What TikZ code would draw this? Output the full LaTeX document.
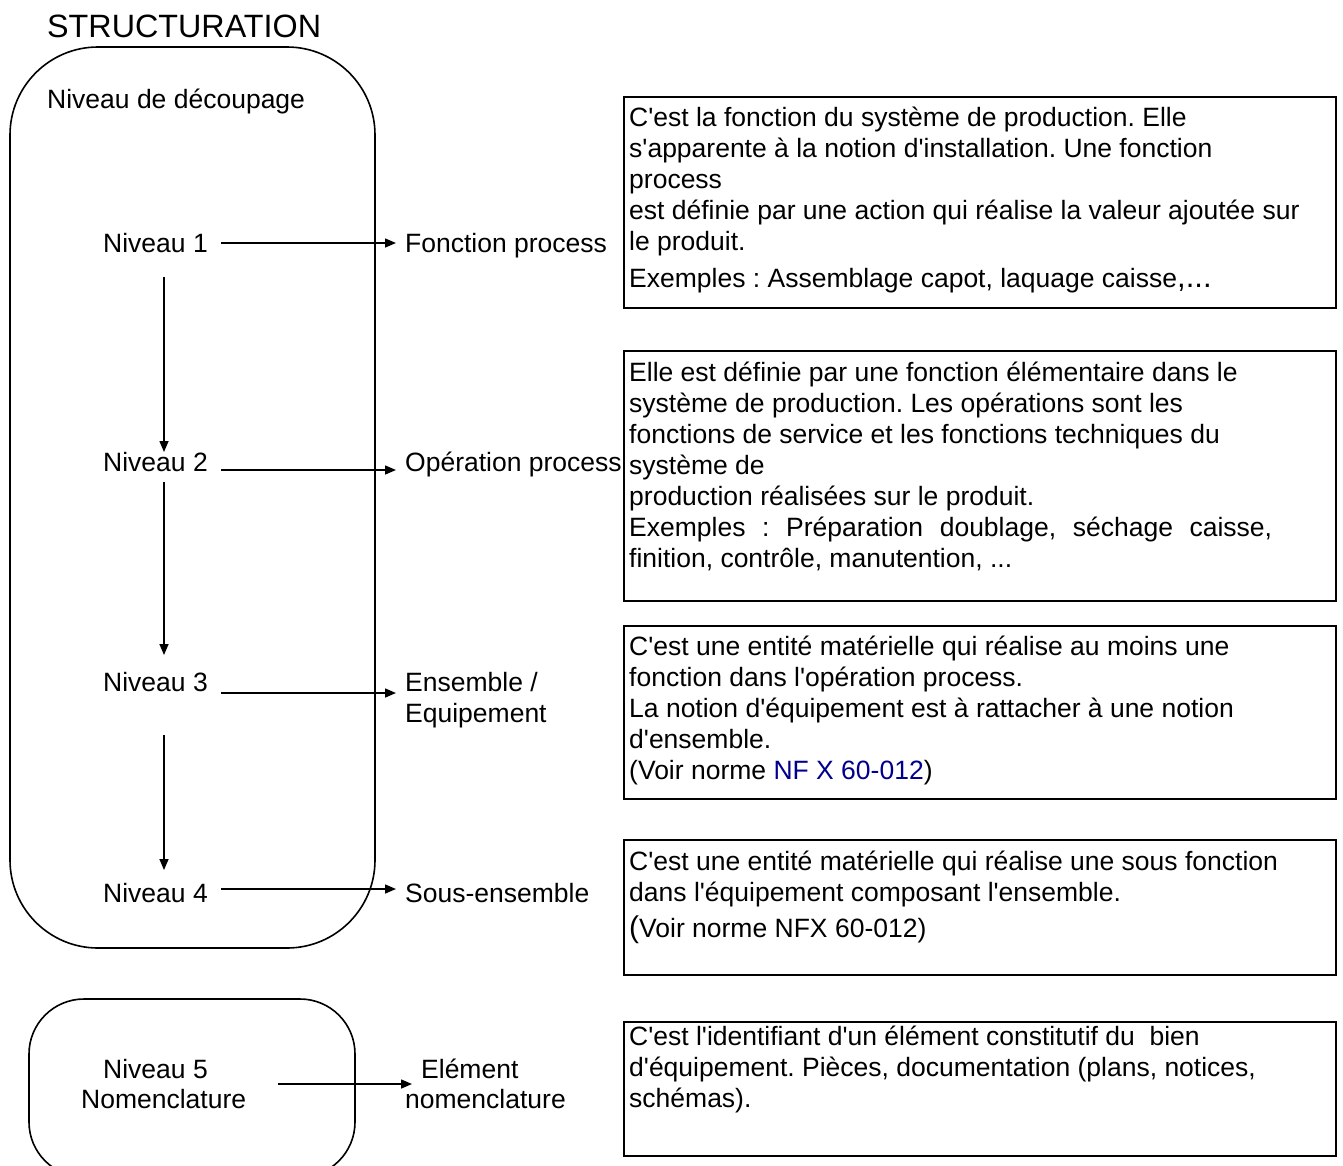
\documentclass[tikz,border=0pt]{standalone}
\usepackage{fontspec}
\setmainfont{Liberation Sans}[Ligatures=TeXOff]
\usetikzlibrary{arrows.meta}
\definecolor{normblue}{RGB}{0,0,140}
\frenchspacing
\begin{document}
\frenchspacing
\begin{tikzpicture}[x=1pt,y=-1pt,
  lbl/.style={anchor=base west, inner sep=0pt, font=\fontsize{26.5}{31}\selectfont},
  desc/.style={anchor=north west, inner sep=0pt, align=left, font=\fontsize{26.5}{31}\selectfont},
  arr/.style={-{Triangle[length=11pt,width=9pt]}, line width=1.5pt},
  frame/.style={line width=1.6pt}]
\useasboundingbox (0,0) rectangle (1343,1165);
\clip (0,0) rectangle (1343,1165);

% title
\node[lbl, font=\fontsize{32.3}{36}\selectfont] (title) at (47,37) {STRUCTURATION};

% rounded containers
\draw[frame, rounded corners=88pt] (10,47) rectangle (375,948);
\draw[frame, rounded corners=55pt] (29,999) rectangle (355,1177);

\node[lbl] (decoup) at (47,108) {Niveau de découpage};

% levels
\node[lbl] (n1) at (103,252) {Niveau 1};
\node[lbl] (n2) at (103,471) {Niveau 2};
\node[lbl] (n3) at (103,691) {Niveau 3};
\node[lbl] (n4) at (103,902) {Niveau 4};
\node[lbl] (n5) at (103,1078) {Niveau 5};
\node[lbl] (nom) at (81,1108) {Nomenclature};

% right labels
\node[lbl] (f1) at (405,252) {Fonction process};
\node[lbl] (f2) at (405,471) {Opération process};
\node[lbl] (f3) at (405,691) {Ensemble /};
\node[lbl] (f3b) at (405,722) {Equipement};
\node[lbl] (f4) at (405,902) {Sous-ensemble};
\node[lbl] (f5) at (421,1078) {Elément};
\node[lbl] (f5b) at (405,1108) {nomenclature};

% horizontal arrows
\draw[arr] ([shift={(118,-9)}]n1.base west) -- ([shift={(-9,-9)}]f1.base west);
\draw[arr] ([shift={(118,-1)}]n2.base west) -- ([shift={(-9,-1)}]f2.base west);
\draw[arr] ([shift={(118,2)}]n3.base west) -- ([shift={(-9,2)}]f3.base west);
\draw[arr] ([shift={(118,-13)}]n4.base west) -- ([shift={(-9,-13)}]f4.base west);
\draw[arr] ([shift={(175,6)}]n5.base west) -- ([shift={(-9,6)}]f5.base west);

% vertical arrows
\draw[arr] ([shift={(61,25)}]n1.base west) -- ([shift={(61,-19)}]n2.base west);
\draw[arr] ([shift={(61,11)}]n2.base west) -- ([shift={(61,-36)}]n3.base west);
\draw[arr] ([shift={(61,44)}]n3.base west) -- ([shift={(61,-32)}]n4.base west);

% description boxes
\draw[frame] (624,97) rectangle (1336,308);
\draw[frame] (624,351) rectangle (1336,601);
\draw[frame] (624,626) rectangle (1336,799);
\draw[frame] (624,840) rectangle (1336,975);
\draw[frame] (624,1022) rectangle (1336,1156);

\node[desc] (d1) at (629,104.6) {\strut C'est la fonction du système de production. Elle\\
s'apparente à la notion d'installation. Une fonction\\
process\\
est définie par une action qui réalise la valeur ajoutée sur\\
le produit.\\[6pt]
Exemples : Assemblage capot, laquage caisse{\fontsize{31}{31}\selectfont,...}};

\node[desc] (d2) at (629,359.6) {\strut Elle est définie par une fonction élémentaire dans le\\
système de production. Les opérations sont les\\
fonctions de service et les fonctions techniques du\\
système de\\
production réalisées sur le produit.\\
\makebox[643pt][s]{Exemples : Préparation doublage, séchage caisse,}\\
finition, contrôle, manutention, ...};

\node[desc] (d3) at (629,633.6) {\strut C'est une entité matérielle qui réalise au moins une\\
fonction dans l'opération process.\\
La notion d'équipement est à rattacher à une notion\\
d'ensemble.\\
(Voir norme \textcolor{normblue}{NF X 60-012})};

\node[desc] (d4) at (629,848.6) {\strut C'est une entité matérielle qui réalise une sous fonction\\
dans l'équipement composant l'ensemble.\\[5pt]
{\fontsize{30}{31}\selectfont(}Voir norme NFX 60-012)};

\node[desc] (d5) at (629,1023.6) {\strut C'est l'identifiant d'un élément constitutif du~ bien\\
d'équipement. Pièces, documentation (plans, notices,\\
schémas).};
\end{tikzpicture}
\end{document}
